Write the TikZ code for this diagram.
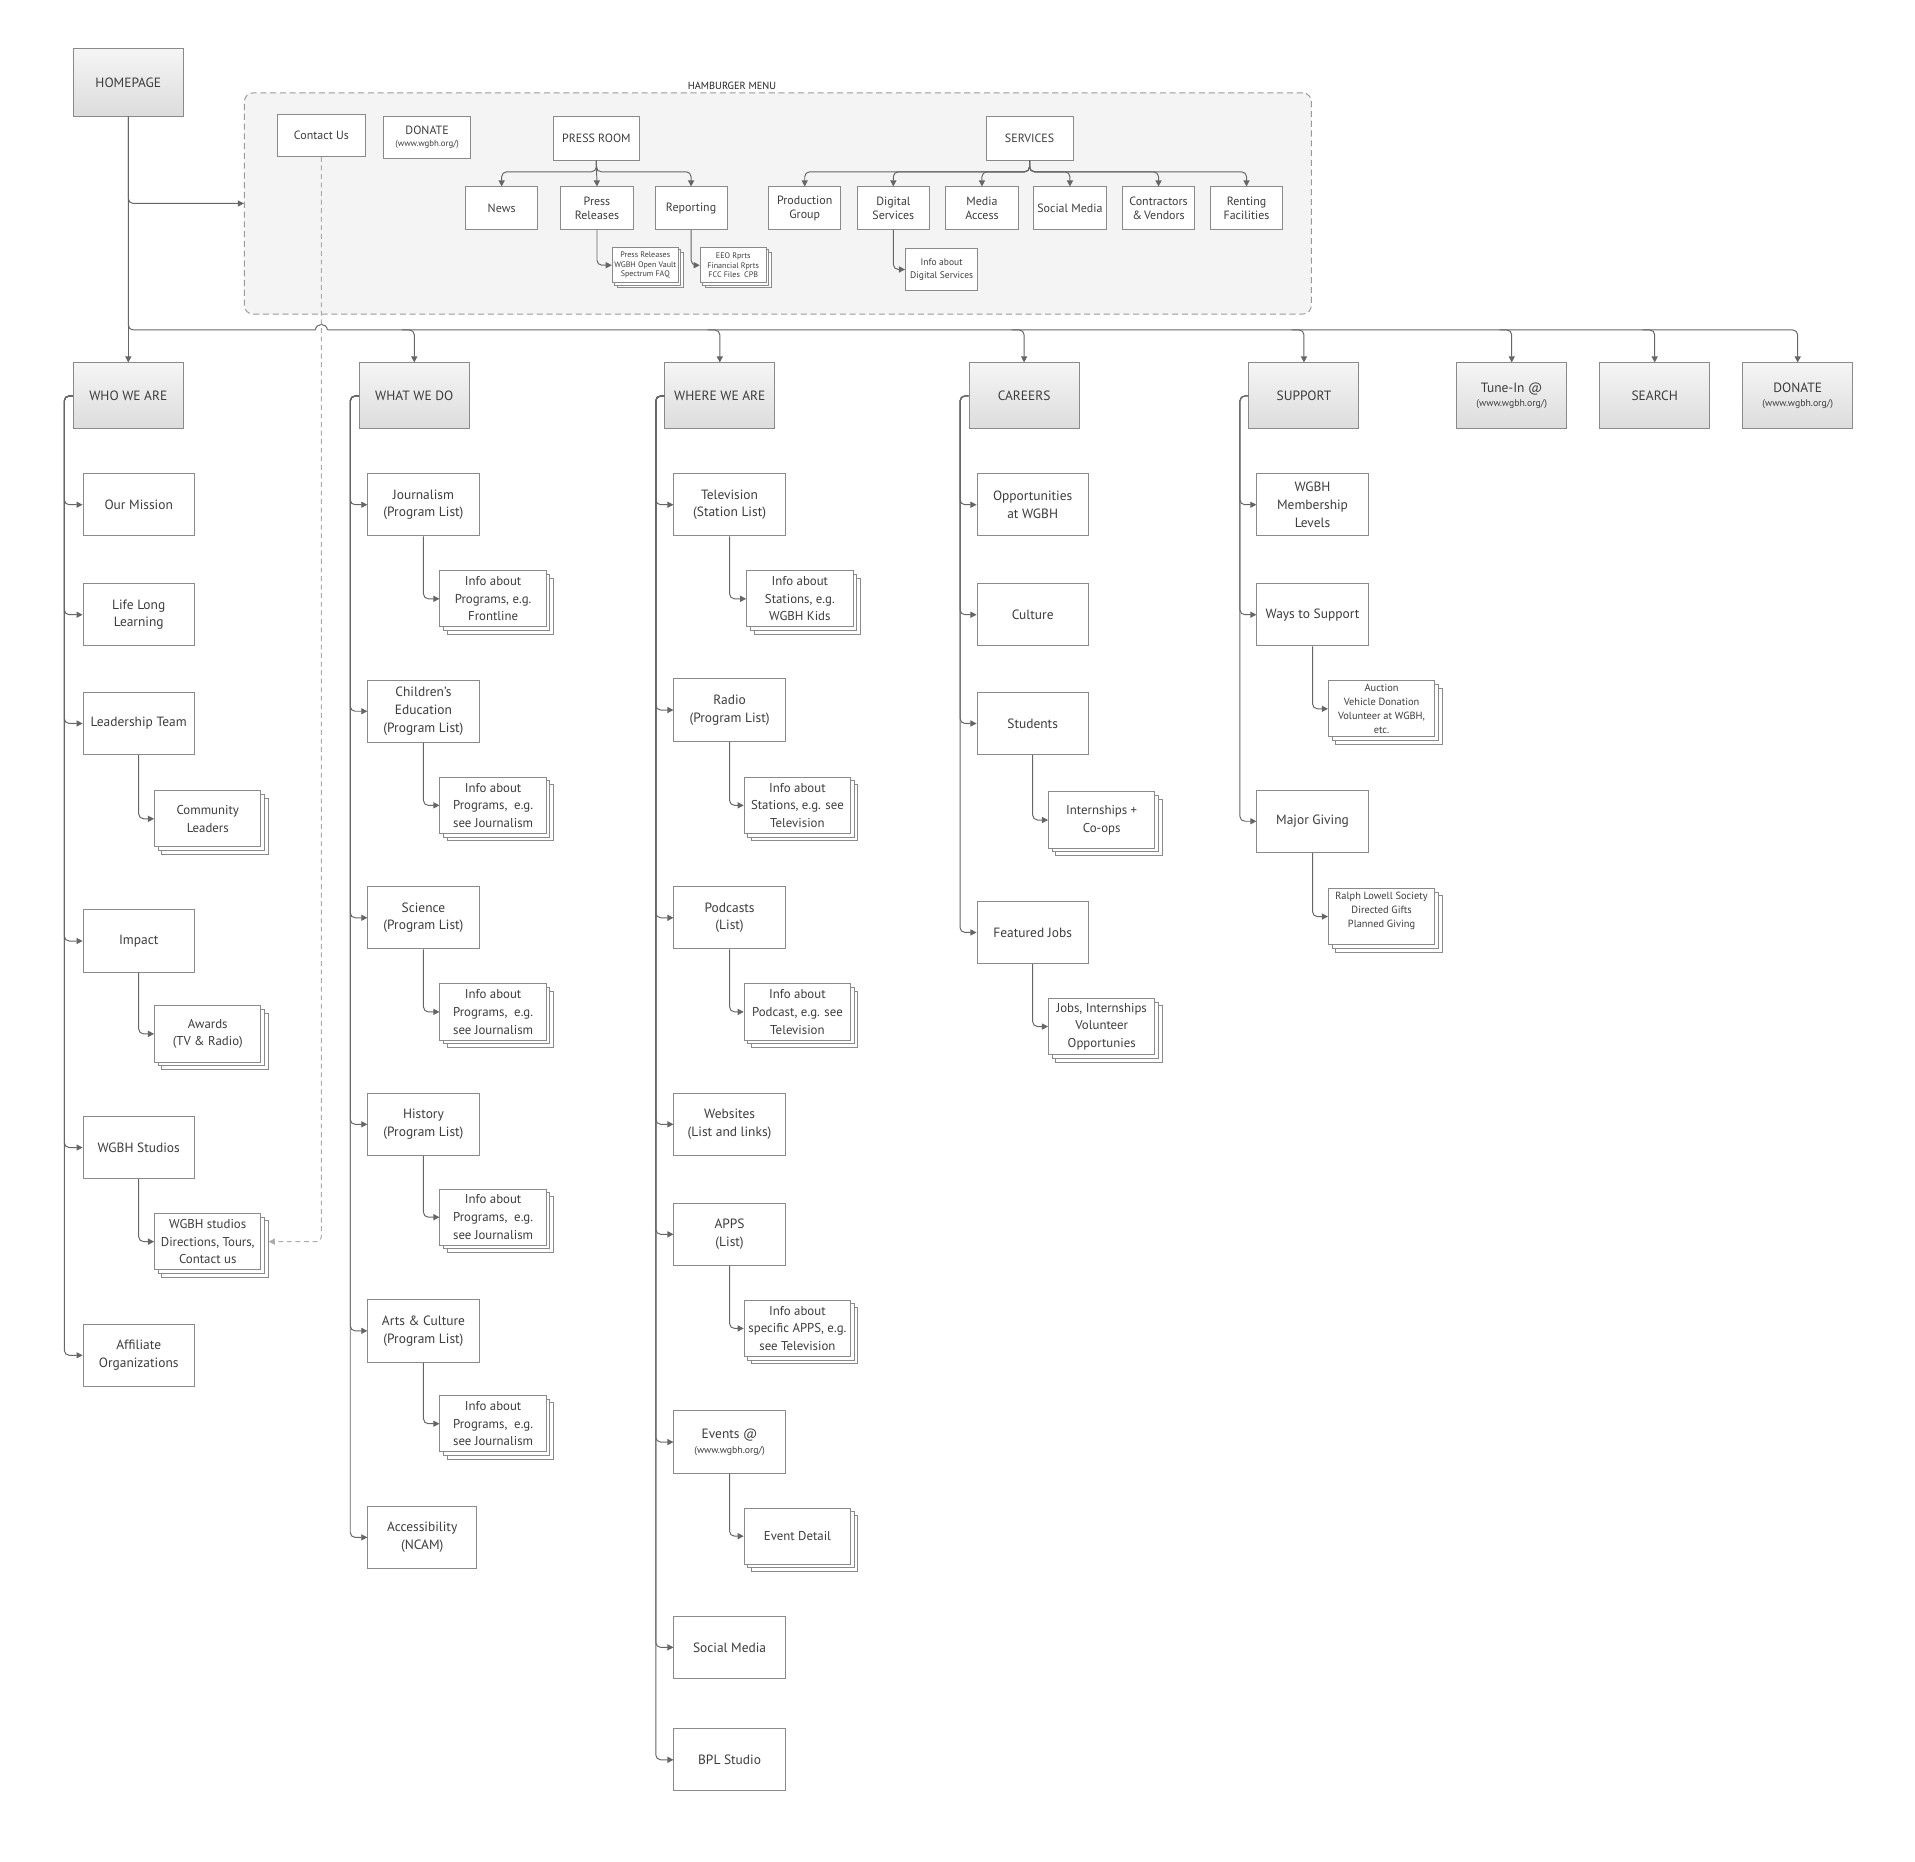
\documentclass[tikz,border=0pt]{standalone}
\usepackage{fontspec}
\setmainfont{PT Sans}
\usetikzlibrary{arrows.meta,shadows,calc}
\definecolor{linec}{HTML}{666666}
\definecolor{boxc}{HTML}{8A8A8A}
\definecolor{textc}{HTML}{3D3D3D}
\definecolor{topA}{HTML}{F5F5F5}
\definecolor{topB}{HTML}{DCDCDC}
\definecolor{hamfill}{HTML}{F4F4F4}
\definecolor{hamline}{HTML}{9A9A9A}
\definecolor{dashc}{HTML}{ABABAB}
\begin{document}
\begin{tikzpicture}[x=1pt,y=-1pt,
 every node/.style={text=textc},
 box/.style={draw=boxc, line width=0.8pt, fill=white, minimum width=91, minimum height=51, align=center, inner sep=0.5pt, font=\fontsize{11}{14.5}\selectfont},
 topbox/.style={box, top color=topA, bottom color=topB, minimum width=90, minimum height=54},
 hbox/.style={box, minimum width=59, minimum height=35, font=\fontsize{9.8}{11}\selectfont},
 bigshadow/.style={copy shadow={shadow xshift=6pt, shadow yshift=-6pt, draw=boxc, fill=white, line width=0.8pt},
   copy shadow={shadow xshift=3pt, shadow yshift=-3pt, draw=boxc, fill=white, line width=0.8pt}},
 smallshadow/.style={copy shadow={shadow xshift=4pt, shadow yshift=-4pt, draw=boxc, fill=white, line width=0.7pt},
   copy shadow={shadow xshift=2pt, shadow yshift=-2pt, draw=boxc, fill=white, line width=0.7pt}},
 stackbox/.style={box, bigshadow, minimum width=87, minimum height=46, font=\fontsize{10.5}{14.5}\selectfont},
 pstack/.style={box, smallshadow, minimum width=54, minimum height=29, line width=0.7pt, font=\fontsize{6.6}{7.6}\selectfont},
 line/.style={draw=linec, line width=0.8pt, rounded corners=4},
 conn/.style={line, -{Triangle[length=5pt,width=5pt]}},
 dconn/.style={draw=dashc, line width=0.8pt, dash pattern=on 4pt off 3pt, rounded corners=4, -{Triangle[length=5pt,width=5pt]}}
]
\useasboundingbox (0,0) rectangle (1567,1523);

% hamburger menu container
\node[draw=hamline, line width=0.8pt, dash pattern=on 5pt off 3pt, fill=hamfill, rounded corners=7,
  minimum width=873, minimum height=181, inner sep=0] (ham) at (636.5,166.5) {};
\node[font=\fontsize{8.5}{10}\selectfont, text=black!85] (hamlab) at (599,70) {HAMBURGER MENU};

% top level
\node[topbox, minimum height=55] (home) at (105,67.5) {HOMEPAGE};
\node[topbox] (who) at (105,324) {WHO WE ARE};
\node[topbox] (wwd) at (339,324) {WHAT WE DO};
\node[topbox] (wwa) at (589,324) {WHERE WE ARE};
\node[topbox] (car) at (838,324) {CAREERS};
\node[topbox] (sup) at (1067,324) {SUPPORT};
\node[topbox] (tune) at (1237,324) {Tune-In @\\[-3pt]{\fontsize{8}{9}\selectfont(www.wgbh.org/)}};
\node[topbox] (search) at (1354,324) {SEARCH};
\node[topbox] (tdon) at (1471,324) {DONATE\\[-3pt]{\fontsize{8}{9}\selectfont(www.wgbh.org/)}};

% hamburger contents
\node[hbox, minimum width=72, minimum height=34] (contact) at (263,111) {Contact Us};
\node[hbox, minimum width=71, minimum height=35] (hdon) at (349.5,112.5) {DONATE\\[-1pt]{\fontsize{7.2}{8}\selectfont(www.wgbh.org/)}};
\node[hbox, minimum width=70, minimum height=36] (press) at (488,113) {PRESS ROOM};
\node[hbox] (news) at (410.5,170.5) {News};
\node[hbox] (prel) at (488.5,170.5) {Press\\Releases};
\node[hbox] (rep) at (565.5,170.5) {Reporting};
\node[pstack] (pstk) at (528,217) {Press Releases\\WGBH Open Vault\\Spectrum FAQ};
\node[pstack] (rstk) at (600,217) {EEO Rprts\\Financial Rprts\\FCC Files\ \ CPB};
\node[hbox, minimum width=71, minimum height=36] (serv) at (842.5,113) {SERVICES};
\node[hbox] (prod) at (658.5,170.5) {Production\\Group};
\node[hbox] (digi) at (731,170.5) {Digital\\Services};
\node[hbox] (media) at (803.5,170.5) {Media\\Access};
\node[hbox] (hsoc) at (875.5,170.5) {Social Media};
\node[hbox] (contr) at (948,170.5) {Contractors\\\&\,Vendors};
\node[hbox] (rent) at (1020,170.5) {Renting\\Facilities};
\node[hbox, font=\fontsize{7.8}{11}\selectfont] (dinfo) at (770.5,220.5) {Info about\\Digital Services};

% WHO WE ARE column
\node[box] (mis) at (113.5,413) {Our Mission};
\node[box] (lll) at (113.5,503) {Life Long\\Learning};
\node[box] (lead) at (113.5,592) {Leadership Team};
\node[stackbox] (comm) at (170,670) {Community\\Leaders};
\node[box] (imp) at (113.5,770) {Impact};
\node[stackbox] (awd) at (170,846) {Awards\\(TV \& Radio)};
\node[box] (stud) at (113.5,939) {WGBH Studios};
\node[stackbox] (studk) at (170,1016) {WGBH studios\\Directions, Tours,\\Contact us};
\node[box] (aff) at (113.5,1109) {Affiliate\\Organizations};

% WHAT WE DO column
\node[box] (jour) at (346.5,413) {Journalism\\(Program List)};
\node[stackbox] (jourk) at (403.5,490) {Info about\\Programs, e.g.\\Frontline};
\node[box] (chil) at (346.5,582) {Children’s\\Education\\(Program List)};
\node[stackbox] (chilk) at (403.5,659) {Info about\\Programs,\ \ e.g.\\see Journalism};
\node[box] (sci) at (346.5,751) {Science\\(Program List)};
\node[stackbox] (scik) at (403.5,828) {Info about\\Programs,\ \ e.g.\\see Journalism};
\node[box] (hist) at (346.5,920) {History\\(Program List)};
\node[stackbox] (histk) at (403.5,996) {Info about\\Programs,\ \ e.g.\\see Journalism};
\node[box] (arts) at (346.5,1089) {Arts \& Culture\\(Program List)};
\node[stackbox] (artsk) at (403.5,1165) {Info about\\Programs,\ \ e.g.\\see Journalism};
\node[box, minimum width=89] (acc) at (345.5,1258) {Accessibility\\(NCAM)};

% WHERE WE ARE column
\node[box] (tv) at (597,413) {Television\\(Station List)};
\node[stackbox] (tvk) at (654.5,490) {Info about\\Stations, e.g.\\WGBH Kids};
\node[box] (rad) at (597,581) {Radio\\(Program List)};
\node[stackbox] (radk) at (652.5,659) {Info about\\Stations, e.g. see\\Television};
\node[box] (pod) at (597,751) {Podcasts\\(List)};
\node[stackbox] (podk) at (652.5,828) {Info about\\Podcast, e.g. see\\Television};
\node[box] (web) at (597,920) {Websites\\(List and links)};
\node[box] (apps) at (597,1010) {APPS\\(List)};
\node[stackbox] (appsk) at (652.5,1087) {Info about\\specific APPS, e.g.\\see Television};
\node[box] (evt) at (597,1180) {Events @\\[-2pt]{\fontsize{8}{9}\selectfont(www.wgbh.org/)}};
\node[stackbox] (evtk) at (652.5,1257) {Event Detail};
\node[box] (soc) at (597,1348) {Social Media};
\node[box] (bpl) at (597,1440) {BPL Studio};

% CAREERS column
\node[box] (opp) at (845,413) {Opportunities\\at WGBH};
\node[box] (cul) at (845,503) {Culture};
\node[box] (stu) at (845,592) {Students};
\node[stackbox] (stuk) at (901.5,671) {Internships +\\Co-ops};
\node[box] (feat) at (845,763) {Featured Jobs};
\node[stackbox] (featk) at (901.5,840) {Jobs, Internships\\Volunteer\\Opportunies};

% SUPPORT column
\node[box] (mem) at (1074,413) {WGBH\\Membership\\Levels};
\node[box] (ways) at (1074,503) {Ways to Support};
\node[stackbox, font=\fontsize{8.5}{11.5}\selectfont] (waysk) at (1130.5,580) {Auction\\Vehicle Donation\\Volunteer at WGBH,\\etc.};
\node[box] (maj) at (1074,672) {Major Giving};
\node[stackbox, font=\fontsize{8.5}{11.5}\selectfont] (majk) at (1130.5,750) {Ralph Lowell Society\\Directed Gifts\\Planned Giving\\\mbox{}};

% ---------------- connectors ----------------
\coordinate (busy) at (0,270);
\coordinate (j1) at (258,270);
\coordinate (j2) at (268,270);
\draw[conn] (home.south) |- (ham.west);
\draw[conn] (home.south) -- (who.north);
\draw[line] (home.south) |- (j1);
\draw[line] (j1) .. controls (259,264) and (267,264) .. (j2);
\draw[conn] (j2) -| (tdon.north);
\foreach \t in {wwd,wwa,car,sup,tune,search}
  \draw[conn] (\t.north |- busy) ++(-10,0) -| (\t.north);

% hamburger links
\foreach \c in {news,rep}
  \draw[conn] (press.south) |- ([yshift=12pt]\c.north) -- (\c.north);
\draw[conn] (press.south) -- (prel.north);
\foreach \c in {prod,digi,media,hsoc,contr,rent}
  \draw[conn] (serv.south) |- ([yshift=12pt]\c.north) -- (\c.north);
\draw[conn] (prel.south) |- (pstk.west);
\draw[conn] (rep.south) |- (rstk.west);
\draw[conn] (digi.south) |- (dinfo.west);

% column trunks
\foreach \c in {mis,lll,lead,imp,stud,aff}
  \draw[conn] (who.west) -- ++(-7,0) |- (\c.west);
\foreach \c in {jour,chil,sci,hist,arts,acc}
  \draw[conn] (wwd.west) -- ++(-7,0) |- (\c.west);
\foreach \c in {tv,rad,pod,web,apps,evt,soc,bpl}
  \draw[conn] (wwa.west) -- ++(-7,0) |- (\c.west);
\foreach \c in {opp,cul,stu,feat}
  \draw[conn] (car.west) -- ++(-7,0) |- (\c.west);
\foreach \c in {mem,ways,maj}
  \draw[conn] (sup.west) -- ++(-7,0) |- (\c.west);

% sub links
\draw[conn] (lead.south) |- (comm.west);
\draw[conn] (imp.south) |- (awd.west);
\draw[conn] (stud.south) |- (studk.west);
\draw[conn] (jour.south) |- (jourk.west);
\draw[conn] (chil.south) |- (chilk.west);
\draw[conn] (sci.south) |- (scik.west);
\draw[conn] (hist.south) |- (histk.west);
\draw[conn] (arts.south) |- (artsk.west);
\draw[conn] (tv.south) |- (tvk.west);
\draw[conn] (rad.south) |- (radk.west);
\draw[conn] (pod.south) |- (podk.west);
\draw[conn] (apps.south) |- (appsk.west);
\draw[conn] (evt.south) |- (evtk.west);
\draw[conn] (stu.south) |- (stuk.west);
\draw[conn] (feat.south) |- (featk.west);
\draw[conn] (ways.south) |- (waysk.west);
\draw[conn] (maj.south) |- (majk.west);

% dashed Contact Us link
\draw[dconn] (contact.south) |- ([xshift=6pt]studk.east);
\end{tikzpicture}
\end{document}
